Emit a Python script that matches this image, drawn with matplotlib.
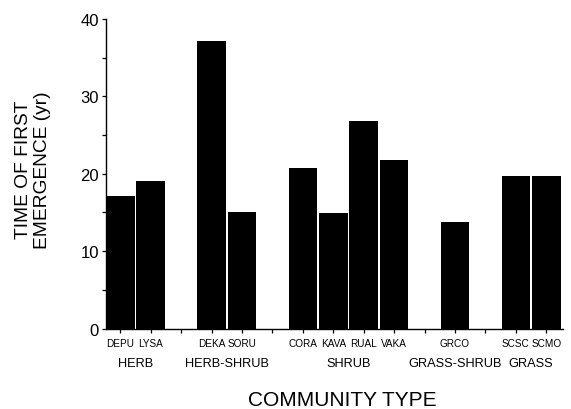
import matplotlib
matplotlib.use("Agg")
import matplotlib.pyplot as plt
import numpy as np

plt.rcParams['font.family'] = ['Liberation Sans', 'DejaVu Sans']

# Species codes, their slot on the x axis, and time of first emergence (yr)
species = ["DEPU", "LYSA", "DEKA", "SORU", "CORA", "KAVA", "RUAL", "VAKA",
           "GRCO", "SCSC", "SCMO"]
slots = [0, 1, 3, 4, 6, 7, 8, 9, 11, 13, 14]
emergence = [17.1, 19.1, 37.1, 15.0, 20.8, 14.9, 26.8, 21.8, 13.75, 19.7, 19.65]

# Community types and the centre slot of each group
groups = ["HERB", "HERB-SHRUB", "SHRUB", "GRASS-SHRUB", "GRASS"]
group_centres = [0.5, 3.5, 7.5, 11, 13.5]

W, H = 571, 410
fig = plt.figure(figsize=(W / 100, H / 100), dpi=100)
ax = fig.add_axes([106 / W, 1 - 329.5 / H, (563 - 106) / W, (329.5 - 20) / H])

ax.bar(slots, emergence, width=0.94, color="black", edgecolor="none")

ax.set_xlim(-0.47, 14.55)
ax.set_ylim(0, 40)

for side in ("top", "right"):
    ax.spines[side].set_visible(False)
for side in ("left", "bottom"):
    ax.spines[side].set_linewidth(1.0)

ax.set_yticks([0, 10, 20, 30, 40])
ax.set_yticks([5, 15, 25, 35], minor=True)
ax.tick_params(axis="y", which="both", direction="out", length=3, width=0.9,
               labelsize=12, pad=2)

ax.set_xticks(np.arange(15))
ax.set_xticklabels([])
ax.tick_params(axis="x", direction="out", length=3, width=0.9)

for x, name in zip(slots, species):
    ax.annotate(name, xy=(x, 0), xycoords=("data", "axes fraction"),
                xytext=(0, -10.5), textcoords="offset points",
                ha="center", va="center", fontsize=7.2)

for x, name in zip(group_centres, groups):
    ax.annotate(name, xy=(x, 0), xycoords=("data", "axes fraction"),
                xytext=(0, -24.5), textcoords="offset points",
                ha="center", va="center", fontsize=9.2)

fig.text(342 / W, 1 - 401 / H, "COMMUNITY TYPE", ha="center", va="center",
         fontsize=15)
fig.text(33 / W, 1 - 170 / H, "TIME OF FIRST\nEMERGENCE (yr)", ha="center",
         va="center", rotation=90, multialignment="center", fontsize=13.8,
         linespacing=1.15)

fig.savefig("out.png", dpi=100)
